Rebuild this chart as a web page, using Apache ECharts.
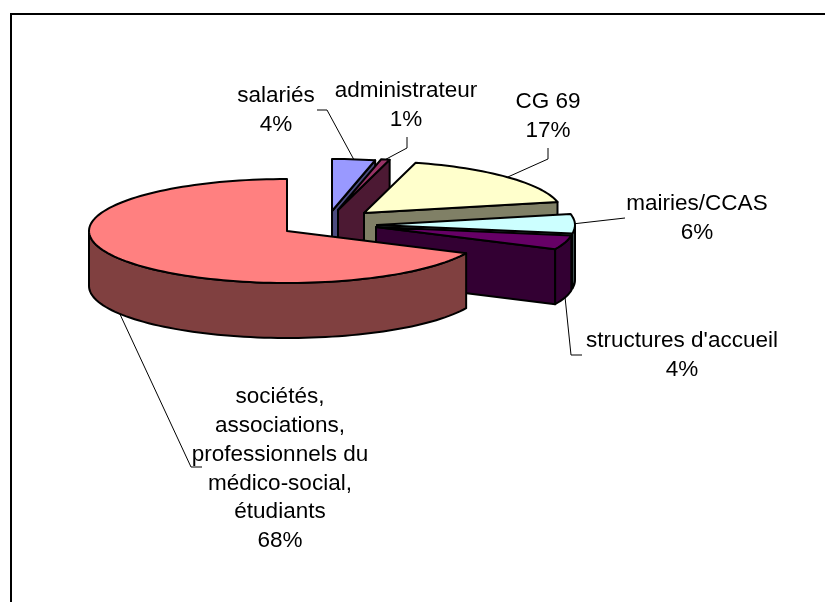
<!DOCTYPE html>
<html>
<head>
<meta charset="utf-8">
<script src="https://cdn.jsdelivr.net/npm/echarts@6/dist/echarts.min.js"></script>
<style>
html,body{margin:0;padding:0;background:#fff}
#main{width:825px;height:602px}
</style>
</head>
<body>
<div id="main"></div>
<script>
// clockwise from 12 o'clock; labels show the rounded percent
var names = ['salariés', 'administrateur', 'CG 69', 'mairies/CCAS', "structures d'accueil",
	'sociétés,\nassociations,\nprofessionnels du\nmédico-social,\nétudiants'];
var values = [3.5, 0.7, 17.4, 6, 4.4, 68];

var topColors = ['#9999FF', '#993366', '#FFFFCC', '#CCFFFF', '#660066', '#FF8080'];
var sideColors = ['#4C4C80', '#4C1933', '#808066', '#668080', '#330033', '#804040'];

// pie geometry
var rx = 198, ry = 52, depth = 55;
// where each slice's apex ends up once exploded
var apexes = [[332, 211], [338, 210], [364, 213], [377, 225], [376, 227], [287, 231]];
// label centre (first line) and leader elbows
var labelPos = [[276, 96], [406, 91], [548, 102], [697, 204], [682, 341], [280, 397]];
var elbows = [
	[[327, 110], [317, 110]],
	[[407, 148], [407, 137]],
	[[548, 159], [548, 148]],
	[[625, 218]],
	[[571, 355], [582, 355]],
	[[191, 467], [202, 467]]
];

var total = values.reduce(function(a, b){ return a + b; }, 0);

function pt(c, deg, dy){
	var r = deg * Math.PI / 180;
	return [c[0] + rx * Math.sin(r), c[1] - ry * Math.cos(r) + (dy || 0)];
}
function arc(c, a0, a1, dy){
	var pts = [], n = Math.max(2, Math.ceil((a1 - a0) / 2));
	for(var i = 0; i <= n; i++){
		pts.push(pt(c, a0 + (a1 - a0) * i / n, dy));
	}
	return pts;
}
function poly(points, fill){
	return {type: 'polygon', shape: {points: points},
		style: {fill: fill, stroke: '#000', lineWidth: 2, lineJoin: 'round'}};
}
function line(points){
	return {type: 'polyline', shape: {points: points},
		style: {fill: null, stroke: '#000', lineWidth: 1}};
}

function renderSlice(params, api){
	var i = params.dataIndex;
	var before = 0;
	for(var k = 0; k < i; k++){ before += values[k]; }
	var a0 = before / total * 360;
	var a1 = (before + api.value(0)) / total * 360;
	var mid = (a0 + a1) / 2;
	var c = apexes[i];
	var kids = [];

	// leader line starts on the rim, on the wall for the front half
	var front = mid > 90 && mid < 270;
	kids.push(line([pt(c, mid, front ? depth : 0)].concat(elbows[i])));

	// cut face that looks towards the viewer
	if(a1 < 180){
		var e = pt(c, a1);
		kids.push(poly([c, e, [e[0], e[1] + depth], [c[0], c[1] + depth]], sideColors[i]));
	}
	// outer wall, only the front half shows
	var w0 = Math.max(a0, 90), w1 = Math.min(a1, 270);
	if(w1 > w0){
		kids.push(poly(arc(c, w0, w1).concat(arc(c, w0, w1, depth).reverse()), sideColors[i]));
	}
	kids.push(poly([c].concat(arc(c, a0, a1)), topColors[i]));

	kids.push({type: 'text', style: {
		text: names[i] + '\n' + Math.round(api.value(0)) + '%',
		x: labelPos[i][0], y: labelPos[i][1] - 14.4,
		align: 'center', verticalAlign: 'top',
		font: '22.5px "Liberation Sans", Arial, sans-serif',
		lineHeight: 28.8, fill: '#000'
	}, z2: 10});
	return {type: 'group', children: kids};
}

var mychart = echarts.init(document.getElementById('main'), null, {renderer: 'canvas'});
var option = {
	animation: false,
	backgroundColor: '#fff',
	// frame of the chart area, cut by the picture on the right and at the bottom
	graphic: [{
		type: 'polyline',
		shape: {points: [[11, 602], [11, 14], [825, 14]]},
		style: {fill: null, stroke: '#000', lineWidth: 2}
	}],
	series: [{
		type: 'custom',
		coordinateSystem: 'none',
		renderItem: renderSlice,
		data: values.map(function(v, i){ return {name: names[i], value: [v]}; })
	}]
};
mychart.setOption(option);
</script>
</body>
</html>
